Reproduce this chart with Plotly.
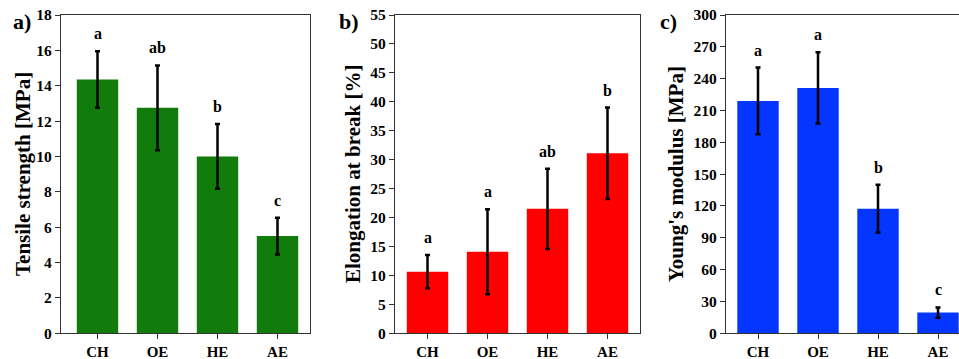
import plotly.graph_objects as go

categories = ["CH", "OE", "HE", "AE"]

tensile_mean = [14.35, 12.75, 10.0, 5.5]
tensile_err = [1.6, 2.4, 1.83, 1.04]
tensile_letters = ["a", "ab", "b", "c"]

elong_mean = [10.65, 14.1, 21.5, 31.1]
elong_err = [2.88, 7.35, 6.95, 7.9]
elong_letters = ["a", "a", "ab", "b"]

modulus_mean = [219.0, 231.3, 117.5, 19.5]
modulus_err = [31.5, 33.5, 22.6, 4.9]
modulus_letters = ["a", "a", "b", "c"]

panel_labels = ["a)", "b)", "c)"]
y_titles = ["Tensile strength [MPa]", "Elongation at break [%]", "Young's modulus [MPa]"]
y_ranges = [[0, 18], [0, 55], [0, 300]]
y_dticks = [2, 5, 30]

W, H = 959, 359
FONT = "Liberation Serif"

panels = [
    (tensile_mean, tensile_err, tensile_letters, "#117B0B"),
    (elong_mean, elong_err, elong_letters, "#FF0000"),
    (modulus_mean, modulus_err, modulus_letters, "#0536FF"),
]

# pixel layout
x_px = [(61, 310), (395, 640), (726, 959)]
first_center = [97.5, 427.5, 758]
spacing = 60.0
y_top, y_bot = 15, 333.3
ydom = [(H - y_bot) / H, (H - y_top) / H]

fig = go.Figure()
annotations = []
layout = {}
for i, (mean, err, letters, color) in enumerate(panels):
    n = "" if i == 0 else str(i + 1)
    xa, ya = "x" + n, "y" + n
    fig.add_trace(go.Bar(
        x=categories, y=mean, xaxis=xa, yaxis=ya, width=0.69,
        marker=dict(color=color, line=dict(width=0)),
        error_y=dict(type="data", array=err, visible=True, color="black",
                     thickness=2.5, width=2.5),
        showlegend=False,
    ))
    x0, x1 = x_px[i]
    rng = [(x0 - first_center[i]) / spacing, (x1 - first_center[i]) / spacing]
    layout["xaxis" + n] = dict(
        domain=[x0 / W, x1 / W], anchor=ya, range=rng, automargin=False,
        type="category", showline=True, linecolor="#333", linewidth=1.3,
        mirror=True, ticks="outside", ticklen=5, tickwidth=1.3, tickcolor="#333",
        tickfont=dict(family=FONT, size=15, color="black", weight="bold"),
        showgrid=False, zeroline=False,
    )
    layout["yaxis" + n] = dict(
        domain=ydom, anchor=xa, range=y_ranges[i], dtick=y_dticks[i], automargin=False,
        showline=True, linecolor="#333", linewidth=1.3,
        mirror=(i < 2), ticks="outside", ticklen=5, tickwidth=1.3, tickcolor="#333",
        tickfont=dict(family=FONT, size=15.5, color="black", weight="bold"),
        showgrid=False, zeroline=False,
    )
    for c, m, e, t in zip(categories, mean, err, letters):
        annotations.append(dict(
            x=c, y=m + e, xref=xa, yref=ya, text=t, showarrow=False,
            yanchor="bottom", yshift=7,
            font=dict(family=FONT, size=16, color="black", weight="bold"),
        ))

title_x = [23, 353, 676]
label_x = [22, 349, 668]
for i in range(3):
    annotations.append(dict(
        x=title_x[i] / W, y=(H - 174) / H, xref="paper", yref="paper",
        text=y_titles[i], textangle=-90, showarrow=False,
        xanchor="center", yanchor="middle",
        font=dict(family=FONT, size=21, color="black", weight="bold"),
    ))
    annotations.append(dict(
        x=label_x[i] / W, y=(H - 22) / H, xref="paper", yref="paper",
        text=panel_labels[i], showarrow=False,
        xanchor="center", yanchor="middle",
        font=dict(family=FONT, size=22, color="black", weight="bold"),
    ))

fig.update_layout(
    width=W, height=H, margin=dict(l=0, r=0, t=0, b=0),
    paper_bgcolor="white", plot_bgcolor="white",
    annotations=annotations, **layout,
)
fig.write_html("out.html")
